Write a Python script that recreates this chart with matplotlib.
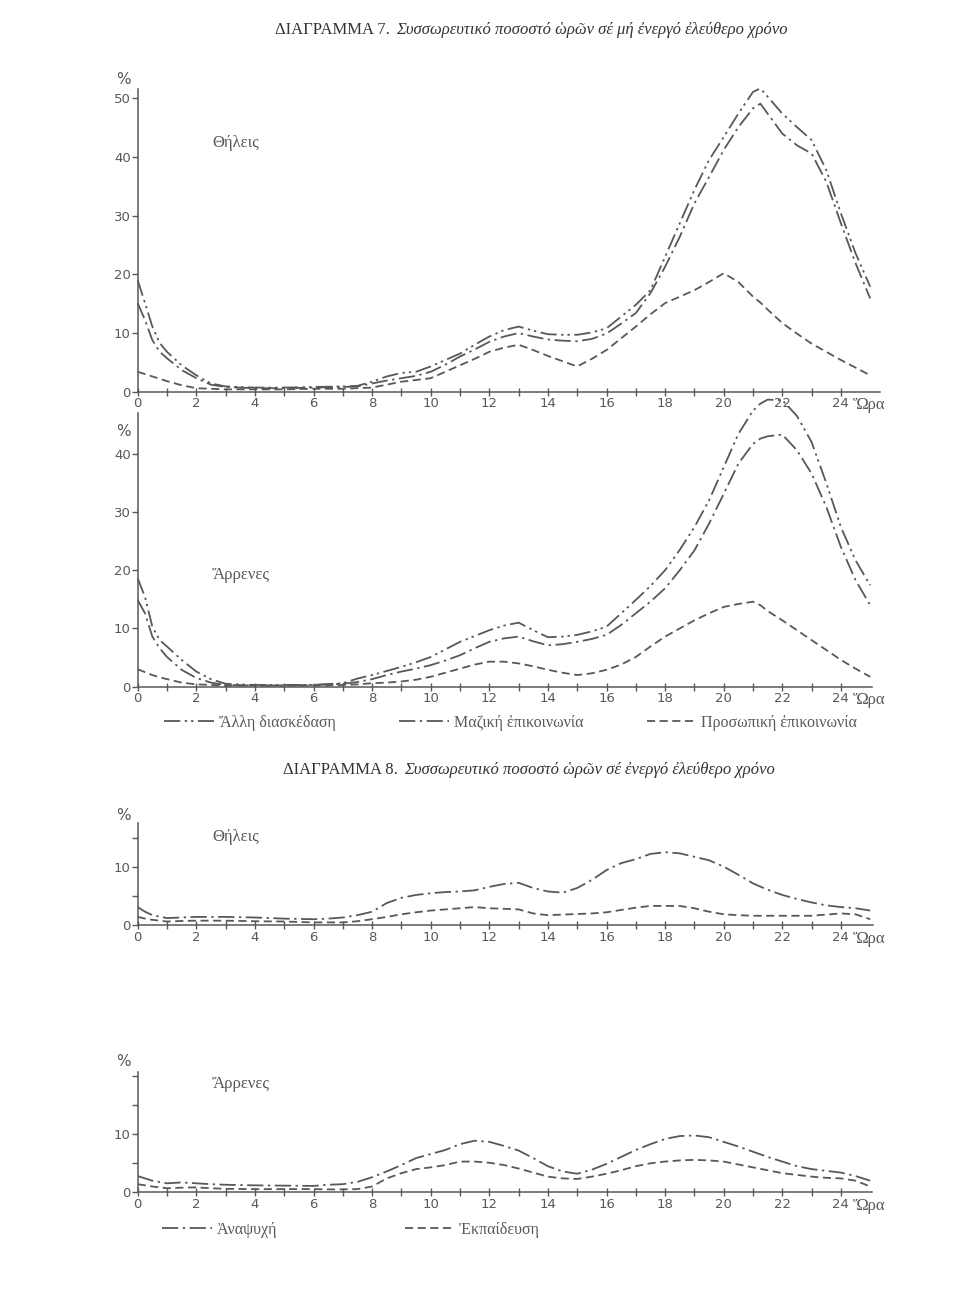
import matplotlib
matplotlib.use("Agg")
import matplotlib.pyplot as plt
from matplotlib.ticker import FixedLocator

# hours (x) for Diagram 7 and Diagram 8
hours_7 = [0, 0.25, 0.5, 0.75, 1, 1.5, 2, 2.5, 3, 4, 5, 6, 7, 7.5, 8, 8.5, 9, 9.5, 10, 10.5,
           11, 11.5, 12, 12.5, 13, 13.5, 14, 14.5, 15, 15.5, 16, 16.5, 17, 17.5, 18, 18.5,
           19, 19.5, 20, 20.5, 21, 21.25, 21.5, 22, 22.5, 23, 23.5, 24, 24.5, 25]
hours_8 = [0, 0.25, 0.5, 1, 1.5, 2, 2.5, 3, 4, 5, 6, 6.5, 7, 7.5, 8, 8.5, 9, 9.5, 10, 10.5,
           11, 11.5, 12, 12.5, 13, 13.5, 14, 14.5, 15, 15.5, 16, 16.5, 17, 17.5, 18, 18.5,
           19, 19.5, 20, 20.5, 21, 21.5, 22, 22.5, 23, 23.5, 24, 24.5, 25]

# Diagram 7, females
f_other = [19.0, 15.1, 11.1, 8.3, 6.8, 4.5, 2.8, 1.4, 0.9, 0.7, 0.7, 0.8, 0.9, 1.0, 1.7, 2.6,
           3.2, 3.4, 4.3, 5.4, 6.5, 8.0, 9.4, 10.5, 11.1, 10.4, 9.8, 9.7, 9.7, 10.1, 10.8, 12.8,
           14.8, 17.3, 23.0, 28.7, 34.4, 39.5, 43.4, 47.4, 51.1, 51.7, 50.3, 47.4, 45.1, 42.9,
           37.8, 30.4, 23.6, 17.9]
f_mass = [15.1, 12.2, 8.8, 6.8, 5.7, 3.7, 2.3, 1.2, 0.8, 0.6, 0.6, 0.7, 0.8, 0.9, 1.4, 1.9,
          2.3, 2.7, 3.4, 4.6, 6.0, 7.2, 8.5, 9.4, 10.0, 9.4, 8.9, 8.7, 8.6, 9.0, 9.9, 11.6,
          13.4, 16.8, 21.3, 26.4, 32.1, 36.6, 41.2, 45.1, 48.3, 49.1, 47.4, 44.0, 42.0, 40.6,
          35.8, 28.7, 21.9, 15.9]
f_pers = [3.4, 3.0, 2.6, 2.2, 1.8, 1.1, 0.6, 0.5, 0.4, 0.4, 0.4, 0.5, 0.5, 0.6, 0.7, 1.2,
          1.7, 2.0, 2.3, 3.4, 4.5, 5.6, 6.8, 7.5, 8.0, 7.1, 6.1, 5.2, 4.3, 5.6, 7.1, 9.1,
          11.1, 13.2, 15.1, 16.2, 17.3, 18.7, 20.2, 18.7, 16.2, 15.2, 14.0, 11.7, 9.9, 8.2,
          6.8, 5.4, 4.1, 2.8]

# Diagram 7, males
m_other = [18.6, 15.4, 10.3, 8.0, 6.9, 4.6, 2.6, 1.3, 0.5, 0.3, 0.3, 0.3, 0.6, 1.4, 2.0, 2.7,
           3.4, 4.2, 5.1, 6.4, 7.7, 8.7, 9.7, 10.5, 11.0, 9.7, 8.5, 8.6, 8.9, 9.5, 10.3, 12.6,
           14.9, 17.3, 20.0, 23.5, 27.4, 32.0, 37.7, 43.4, 47.4, 48.6, 49.3, 49.2, 46.5, 42.0,
           35.0, 27.4, 21.7, 17.4]
m_mass = [14.9, 12.6, 8.6, 6.6, 5.1, 2.9, 1.5, 0.7, 0.3, 0.2, 0.2, 0.3, 0.5, 0.8, 1.3, 2.0,
          2.6, 3.1, 3.7, 4.5, 5.4, 6.6, 7.7, 8.3, 8.6, 7.8, 7.1, 7.3, 7.7, 8.2, 8.9, 10.6,
          12.6, 14.6, 16.9, 20.0, 23.4, 28.0, 33.1, 38.3, 41.7, 42.6, 43.0, 43.3, 40.6, 36.6,
          30.9, 24.0, 18.3, 14.0]
m_pers = [3.0, 2.5, 2.0, 1.6, 1.3, 0.7, 0.4, 0.3, 0.2, 0.2, 0.2, 0.2, 0.3, 0.4, 0.6, 0.7,
          0.9, 1.2, 1.7, 2.4, 3.1, 3.8, 4.3, 4.3, 4.0, 3.5, 2.9, 2.4, 2.0, 2.3, 2.9, 3.8,
          5.1, 6.9, 8.6, 10.0, 11.4, 12.6, 13.7, 14.2, 14.6, 14.0, 13.0, 11.4, 9.7, 8.0,
          6.3, 4.6, 3.1, 1.7]

# Diagram 8
f_recr = [3.1, 2.3, 1.7, 1.2, 1.3, 1.4, 1.4, 1.4, 1.3, 1.1, 1.0, 1.1, 1.3, 1.7, 2.3, 3.8,
          4.7, 5.2, 5.5, 5.7, 5.8, 6.0, 6.6, 7.1, 7.3, 6.4, 5.8, 5.6, 6.4, 7.8, 9.5, 10.7,
          11.4, 12.3, 12.6, 12.4, 11.8, 11.2, 10.1, 8.7, 7.2, 6.1, 5.2, 4.5, 3.9, 3.4, 3.1,
          2.9, 2.5]
f_edu = [1.4, 1.1, 0.9, 0.6, 0.7, 0.75, 0.75, 0.75, 0.65, 0.6, 0.45, 0.45, 0.45, 0.65, 1.0,
         1.4, 1.85, 2.2, 2.5, 2.7, 2.9, 3.1, 2.9, 2.8, 2.7, 2.0, 1.7, 1.8, 1.9, 2.0, 2.2, 2.6,
         3.0, 3.3, 3.3, 3.3, 2.9, 2.3, 1.85, 1.7, 1.6, 1.6, 1.6, 1.6, 1.6, 1.8, 2.0, 1.85, 1.0]
m_recr = [2.8, 2.4, 2.0, 1.55, 1.7, 1.55, 1.4, 1.3, 1.2, 1.15, 1.1, 1.3, 1.4, 1.8, 2.6, 3.6,
          4.7, 5.9, 6.6, 7.3, 8.3, 8.9, 8.7, 8.0, 7.2, 5.9, 4.5, 3.6, 3.2, 3.9, 4.9, 6.1,
          7.3, 8.3, 9.2, 9.7, 9.8, 9.5, 8.7, 7.9, 7.0, 6.1, 5.3, 4.5, 4.0, 3.7, 3.4, 2.8, 2.0]
m_edu = [1.4, 1.2, 1.0, 0.7, 0.8, 0.85, 0.7, 0.6, 0.55, 0.55, 0.55, 0.5, 0.5, 0.55, 1.0,
         2.4, 3.3, 4.0, 4.3, 4.7, 5.3, 5.3, 5.1, 4.7, 4.1, 3.4, 2.7, 2.4, 2.3, 2.7, 3.2, 3.8,
         4.5, 5.0, 5.3, 5.5, 5.6, 5.5, 5.3, 4.8, 4.3, 3.8, 3.3, 3.0, 2.7, 2.5, 2.4, 2.0, 1.0]

labels_7 = ["Ἄλλη διασκέδαση", "Μαζική ἐπικοινωνία", "Προσωπική ἐπικοινωνία"]
labels_8 = ["Ἀναψυχή", "Ἐκπαίδευση"]
xticks = list(range(0, 25, 2))

W, H = 960, 1290
INK = "#585858"
SERIF = ["Liberation Serif", "DejaVu Serif"]
SANS = ["DejaVu Sans"]
PX_PER_H = 29.3
X0 = 137.7

ls_other = (0, (9, 2.5, 1.3, 2.2, 1.3, 2.5))
ls_mass = (0, (9, 2.5, 1.3, 2.5))
ls_dash = (0, (4.5, 2.5))

fig = plt.figure(figsize=(W / 100, H / 100), dpi=100)


def make_axes(top, right, bottom, ymax, major_y, minor_y=(), pct_y=None):
    ax = fig.add_axes([X0 / W, 1 - bottom / H, (right - X0) / W, (bottom - top) / H])
    ax.set_xlim(0, (right - X0) / PX_PER_H)
    ax.set_ylim(0, ymax)
    for s in ("top", "right"):
        ax.spines[s].set_visible(False)
    for s in ("left", "bottom"):
        ax.spines[s].set_color(INK)
        ax.spines[s].set_linewidth(1.1)
    ax.set_xticks(xticks)
    ax.xaxis.set_minor_locator(FixedLocator(list(range(1, 25, 2))))
    ax.set_yticks(major_y)
    ax.yaxis.set_minor_locator(FixedLocator(list(minor_y)))
    ax.tick_params(axis="x", which="both", direction="inout", length=6, width=1,
                   color=INK, labelcolor=INK, labelsize=9.5, pad=1)
    ax.tick_params(axis="y", which="both", direction="out", length=4, width=1,
                   color=INK, labelcolor=INK, labelsize=9.5, pad=1)
    for lab in ax.get_xticklabels() + ax.get_yticklabels():
        lab.set_family(SANS)
    ax.annotate("Ὥρα", xy=(24.4, 0), xycoords=("data", "axes fraction"),
                xytext=(0, -4), textcoords="offset points", ha="left", va="top",
                fontsize=12, family=SERIF, color=INK, annotation_clip=False)
    fig.text(123 / W, 1 - pct_y / H, "%", ha="center", va="center",
             fontsize=11, family=SANS, color=INK)
    ax.patch.set_alpha(0)
    return ax


def panel_label(text, y_px):
    fig.text(212 / W, 1 - y_px / H, text, ha="left", va="center",
             fontsize=12, family=SERIF, color=INK)


def title(y_px, split_px, head, body):
    fig.text(split_px / W, 1 - y_px / H, head, ha="right", va="center",
             fontsize=12, family=SERIF, color="#333")
    fig.text((split_px + 6) / W, 1 - y_px / H, body, ha="left", va="center",
             fontsize=12, family=SERIF, style="italic", color="#333")


lw = 1.3
title(30, 390, "ΔΙΑΓΡΑΜΜΑ 7.", "Συσσωρευτικό ποσοστό ὡρῶν σέ μή ἐνεργό ἐλεύθερο χρόνο")

ax1 = make_axes(89, 880, 391.7, 51.6, range(0, 51, 10), pct_y=79)
ax1.plot(hours_7, f_other, ls=ls_other, color=INK, lw=lw, clip_on=False)
ax1.plot(hours_7, f_mass, ls=ls_mass, color=INK, lw=lw, clip_on=False)
ax1.plot(hours_7, f_pers, ls=ls_dash, color=INK, lw=lw, clip_on=False)
panel_label("Θήλεις", 143)

ax2 = make_axes(413, 872, 686.7, 47, range(0, 41, 10), pct_y=432)
h1, = ax2.plot(hours_7, m_other, ls=ls_other, color=INK, lw=lw, clip_on=False)
h2, = ax2.plot(hours_7, m_mass, ls=ls_mass, color=INK, lw=lw, clip_on=False)
h3, = ax2.plot(hours_7, m_pers, ls=ls_dash, color=INK, lw=lw, clip_on=False)
panel_label("Ἄρρενες", 575)
fig.legend([h1, h2, h3], labels_7, loc="center left", bbox_to_anchor=(150 / W, 1 - 723 / H),
           ncol=3, frameon=False, handlelength=3.1, handletextpad=0.3, columnspacing=4.0,
           prop={"family": SERIF, "size": 11.5}, labelcolor=INK)

title(770, 398, "ΔΙΑΓΡΑΜΜΑ 8.", "Συσσωρευτικό ποσοστό ὡρῶν σέ ἐνεργό ἐλεύθερο χρόνο")

ax3 = make_axes(823.3, 873, 925, 17.6, [0, 10], [5, 15], pct_y=815)
ax3.plot(hours_8, f_recr, ls=ls_mass, color=INK, lw=lw)
ax3.plot(hours_8, f_edu, ls=ls_dash, color=INK, lw=lw)
panel_label("Θήλεις", 837)

ax4 = make_axes(1071.7, 872, 1192.3, 20.8, [0, 10], [5, 15, 20], pct_y=1062)
g1, = ax4.plot(hours_8, m_recr, ls=ls_mass, color=INK, lw=lw)
g2, = ax4.plot(hours_8, m_edu, ls=ls_dash, color=INK, lw=lw)
panel_label("Ἄρρενες", 1084)
fig.legend([g1, g2], labels_8, loc="center left", bbox_to_anchor=(148 / W, 1 - 1230 / H),
           ncol=2, frameon=False, handlelength=3.1, handletextpad=0.3, columnspacing=8.0,
           prop={"family": SERIF, "size": 11.5}, labelcolor=INK)

fig.savefig("out.png", dpi=100, facecolor="white")
